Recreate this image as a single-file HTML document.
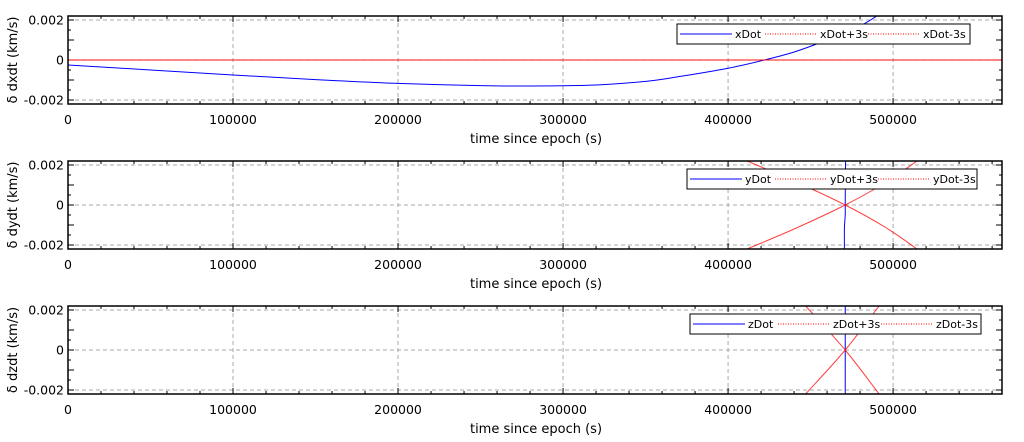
<!DOCTYPE html>
<html><head><meta charset="utf-8"><style>
body{margin:0;background:#fff;}
svg{display:block;font-family:"DejaVu Sans","Liberation Sans",sans-serif;}
</style></head><body>
<svg id="chart" width="1024" height="442"></svg>
<script>
const xTicks=[0,100000,200000,300000,400000,500000];
const yTicks=[-0.002,0,0.002];
const yTickLabels=["-0.002","0","0.002"];
const xDotT=[0,50000,100000,150000,200000,250000,280000,320000,350000,371000,400000,422000,440000,460000,480000,492000];
const xDotV=[-0.00025,-0.0005,-0.00075,-0.00098,-0.00117,-0.00128,-0.0013,-0.00125,-0.00107,-0.00082,-0.00041,0,0.0004,0.001,0.0017,0.0023];
const xPlusT=[0,566000];const xPlusV=[0,0];
const xMinusT=[0,566000];const xMinusV=[0,0];
const yDotT=[470500,470500,471000,471000,471200];
const yDotV=[-0.0023,-0.0012,-0.0005,0.0001,0.0023];
const yPlusT=[411500,440000,471000,495000,514500];
const yPlusV=[-0.0022,-0.0012,0,0.0011,0.0022];
const yMinusT=[411500,440000,471000,495000,514500];
const yMinusV=[0.0022,0.0012,0,-0.0011,-0.0022];
const zDotT=[471000,471000];
const zDotV=[-0.0023,0.0023];
const zPlusT=[447000,471000,491500];
const zPlusV=[-0.0022,0,0.0022];
const zMinusT=[447000,471000,491500];
const zMinusV=[0.0022,0,-0.0022];

const NS="http://www.w3.org/2000/svg";
const svg=document.getElementById('chart');
const L=68,R=1002,XMAX=566000,YMAX=0.0022;
const sx=v=>L+v/XMAX*(R-L);
function mk(t,a,p){const e=document.createElementNS(NS,t);for(const k in a)e.setAttribute(k,a[k]);(p||svg).appendChild(e);return e;}
function smooth(P){
 if(P.length<3)return 'M'+P.map(p=>p.join(',')).join('L');
 let d='M'+P[0][0]+','+P[0][1];
 for(let i=0;i<P.length-1;i++){const p0=P[i-1]||P[i],p1=P[i],p2=P[i+1],p3=P[i+2]||p2;
  const c1=[p1[0]+(p2[0]-p0[0])/6,p1[1]+(p2[1]-p0[1])/6],c2=[p2[0]-(p3[0]-p1[0])/6,p2[1]-(p3[1]-p1[1])/6];
  d+=`C${c1[0].toFixed(1)},${c1[1].toFixed(1)} ${c2[0].toFixed(1)},${c2[1].toFixed(1)} ${p2[0].toFixed(1)},${p2[1].toFixed(1)}`;}
 return d;}
const legOff=[3,88,191];
const panels=[
 {top:16,name:'dxdt',label:'δ dxdt (km/s)',series:[[xDotT,xDotV,'#0000ff',0],[xPlusT,xPlusV,'#ff0000',1],[xMinusT,xMinusV,'#ff0000',1]],leg:['xDot','xDot+3s','xDot-3s'],lx:677,lw:293},
 {top:161,name:'dydt',label:'δ dydt (km/s)',series:[[yDotT,yDotV,'#0000ff',0],[yPlusT,yPlusV,'#ff0000',1],[yMinusT,yMinusV,'#ff0000',1]],leg:['yDot','yDot+3s','yDot-3s'],lx:687,lw:290},
 {top:306,name:'dzdt',label:'δ dzdt (km/s)',series:[[zDotT,zDotV,'#0000ff',0],[zPlusT,zPlusV,'#ff0000',1],[zMinusT,zMinusV,'#ff0000',1]],leg:['zDot','zDot+3s','zDot-3s'],lx:690,lw:291}
];
panels.forEach((p,pi)=>{
 const T=p.top,B=T+88,mid=T+44;
 const sy=v=>mid-v/YMAX*44;
 const g=mk('g',{});
 
 
 const clipId='c'+pi;
 const cp=mk('clipPath',{id:clipId},g);mk('rect',{x:L,y:T,width:R-L,height:B-T},cp);
 xTicks.forEach(v=>{if(v>0){const l=mk('line',{x1:sx(v),x2:sx(v),y1:T,y2:B,stroke:'#aaa','stroke-dasharray':'4,3'},g);}
  const t=mk('text',{x:sx(v),y:B+20,'text-anchor':'middle','font-size':12.5,fill:'#000'},g);t.textContent=v;
  });
 yTicks.forEach((v,i)=>{const l=mk('line',{x1:L,x2:R,y1:sy(v),y2:sy(v),stroke:'#aaa','stroke-dasharray':'4,3'},g);
  
  const t=mk('text',{x:L-4,y:sy(v)+4.5,'text-anchor':'end','font-size':12.5,fill:'#000'},g);t.textContent=yTickLabels[i];
  });
 for(let v=0;v<=XMAX;v+=20000){const big=v%100000===0;const len=big?6:3;
  mk('line',{x1:sx(v),x2:sx(v),y1:B,y2:B-len,stroke:'#000'},g);mk('line',{x1:sx(v),x2:sx(v),y1:T,y2:T+len,stroke:'#000'},g);}
 for(let k=-4;k<=4;k++){const v=k*0.0005;const len=k%2===0?6:3;
  mk('line',{x1:L,x2:L+len,y1:sy(v),y2:sy(v),stroke:'#000'},g);mk('line',{x1:R,x2:R-len,y1:sy(v),y2:sy(v),stroke:'#000'},g);}
 const sg=mk('g',{'clip-path':'url(#'+clipId+')'},g);
 p.series.forEach((s,si)=>{const P=s[0].map((t,i)=>[sx(t),sy(s[1][i])]);
  const pl=mk('path',{d:smooth(P),fill:'none',stroke:s[2],'stroke-width':1,opacity:s[3]?0.75:1},sg);
  });
 const fr=mk('rect',{x:L,y:T,width:R-L,height:B-T,fill:'none',stroke:'#000','stroke-width':1.5},g);
 
 const yl=mk('text',{x:0,y:0,transform:`translate(17,${mid}) rotate(-90)`,'text-anchor':'middle','font-size':13,fill:'#000'},g);yl.textContent=p.label;
 
 const xl=mk('text',{x:(L+R)/2+1,y:B+39,'text-anchor':'middle','font-size':13,fill:'#000'},g);xl.textContent='time since epoch (s)';
 
 const lg=mk('g',{},g);
 const ly=T+8;
 mk('rect',{x:p.lx,y:ly,width:p.lw,height:20,fill:'#fff',stroke:'#000','stroke-width':1},lg);
 p.leg.forEach((n,i)=>{const x0=p.lx+legOff[i];
  mk('line',{x1:x0,x2:x0+52,y1:ly+10,y2:ly+10,stroke:i?'#ff0000':'#0000ff','stroke-dasharray':i?'1,1.5':'none'},lg);
  const t=mk('text',{x:x0+55,y:ly+14,'font-size':11,fill:'#000'},lg);t.textContent=n;
  });
});
</script>
</body></html>
